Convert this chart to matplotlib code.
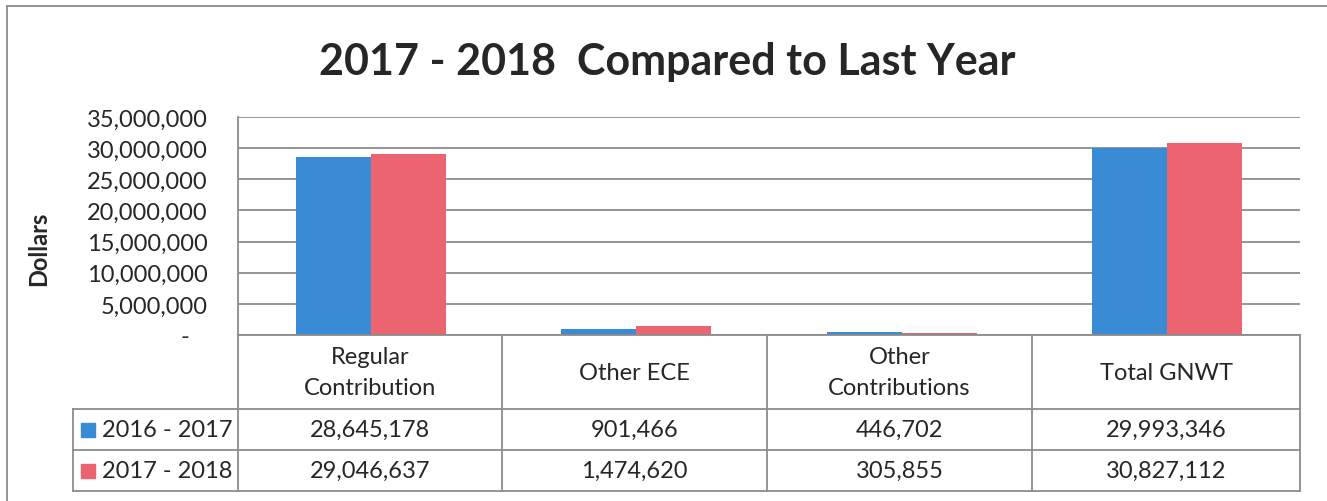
import matplotlib.pyplot as plt
from matplotlib.lines import Line2D
from matplotlib.patches import Rectangle

categories = ['Regular\nContribution', 'Other ECE', 'Other\nContributions', 'Total GNWT']
series_names = ['2016 - 2017', '2017 - 2018']
values_1617 = [28645178, 901466, 446702, 29993346]
values_1718 = [29046637, 1474620, 305855, 30827112]
yticks = [0, 5000000, 10000000, 15000000, 20000000, 25000000, 30000000, 35000000]

blue = '#3a8bd6'
red = '#ec6470'
grid_grey = '#8c8c8c'
text_col = '#262626'

plt.rcParams['font.family'] = ['Lato', 'DejaVu Sans']

W, H = 1327, 502
fig = plt.figure(figsize=(W / 100, H / 100), dpi=100)


def fx(x):
    return x / W


def fy(y):
    return 1 - y / H


def hline(x0, x1, y, **kw):
    fig.add_artist(Line2D([fx(x0), fx(x1)], [fy(y), fy(y)], color=grid_grey, lw=1.3, **kw))


def vline(x, y0, y1, **kw):
    fig.add_artist(Line2D([fx(x), fx(x)], [fy(y0), fy(y1)], color=grid_grey, lw=1.3, **kw))


# outer chart frame (only top and left edges fall inside the image)
hline(7, W, 7)
vline(7, 7, H)

# plot area
plot_l, plot_r, plot_t, plot_b = 238, 1300, 118, 336
ax = fig.add_axes([fx(plot_l), fy(plot_b), fx(plot_r) - fx(plot_l), (plot_b - plot_t) / H])

n = len(categories)
centers = [i + 0.5 for i in range(n)]
w = 0.283
ax.bar([c - w / 2 for c in centers], values_1617, width=w, color=blue, zorder=3)
ax.bar([c + w / 2 for c in centers], values_1718, width=w, color=red, zorder=3)

ax.set_xlim(0, n)
ax.set_ylim(0, 35000000)
ax.set_yticks(yticks)
ax.set_yticklabels(['-   '] + [f'{v:,}' for v in yticks[1:]], fontsize=17, color=text_col)
ax.set_xticks([])
ax.tick_params(axis='y', length=0, pad=22)
ax.grid(axis='y', color=grid_grey, lw=1.3, zorder=0)
for s in ['top', 'right', 'bottom']:
    ax.spines[s].set_visible(False)
ax.spines['left'].set_color(grid_grey)
ax.spines['left'].set_linewidth(1.3)

ax.set_ylabel('Dollars', fontsize=17, fontweight='bold', color=text_col)
ax.yaxis.set_label_coords(-(plot_l - 50) / (plot_r - plot_l), 0.4)

fig.text(fx(667), fy(62), '2017 - 2018  Compared to Last Year', fontsize=31,
         fontweight='bold', color=text_col, ha='center', va='center')

# data table under the plot
col_x = [238, 502, 767, 1032, 1300]
row_y = [336, 410, 451, 492]
tab_l = 73

hline(plot_l, plot_r, row_y[0])
for y in row_y[1:]:
    hline(tab_l, plot_r, y)
for x in col_x:
    vline(x, row_y[0], row_y[-1])
vline(tab_l, row_y[1], row_y[-1])

for i, cat in enumerate(categories):
    cx = (col_x[i] + col_x[i + 1]) / 2
    fig.text(fx(cx), fy((row_y[0] + row_y[1]) / 2), cat, fontsize=17, color=text_col,
             ha='center', va='center', linespacing=1.6)
    for r, vals in enumerate([values_1617, values_1718]):
        fig.text(fx(cx), fy((row_y[r + 1] + row_y[r + 2]) / 2), f'{vals[i]:,}', fontsize=17,
                 color=text_col, ha='center', va='center')

for r, (name, col) in enumerate(zip(series_names, [blue, red])):
    cy = (row_y[r + 1] + row_y[r + 2]) / 2
    fig.add_artist(Rectangle((fx(81), fy(cy + 7)), 14 / W, 14 / H, color=col))
    fig.text(fx(102), fy(cy), name, fontsize=17, color=text_col, ha='left', va='center')

fig.savefig('out.png', dpi=100)
